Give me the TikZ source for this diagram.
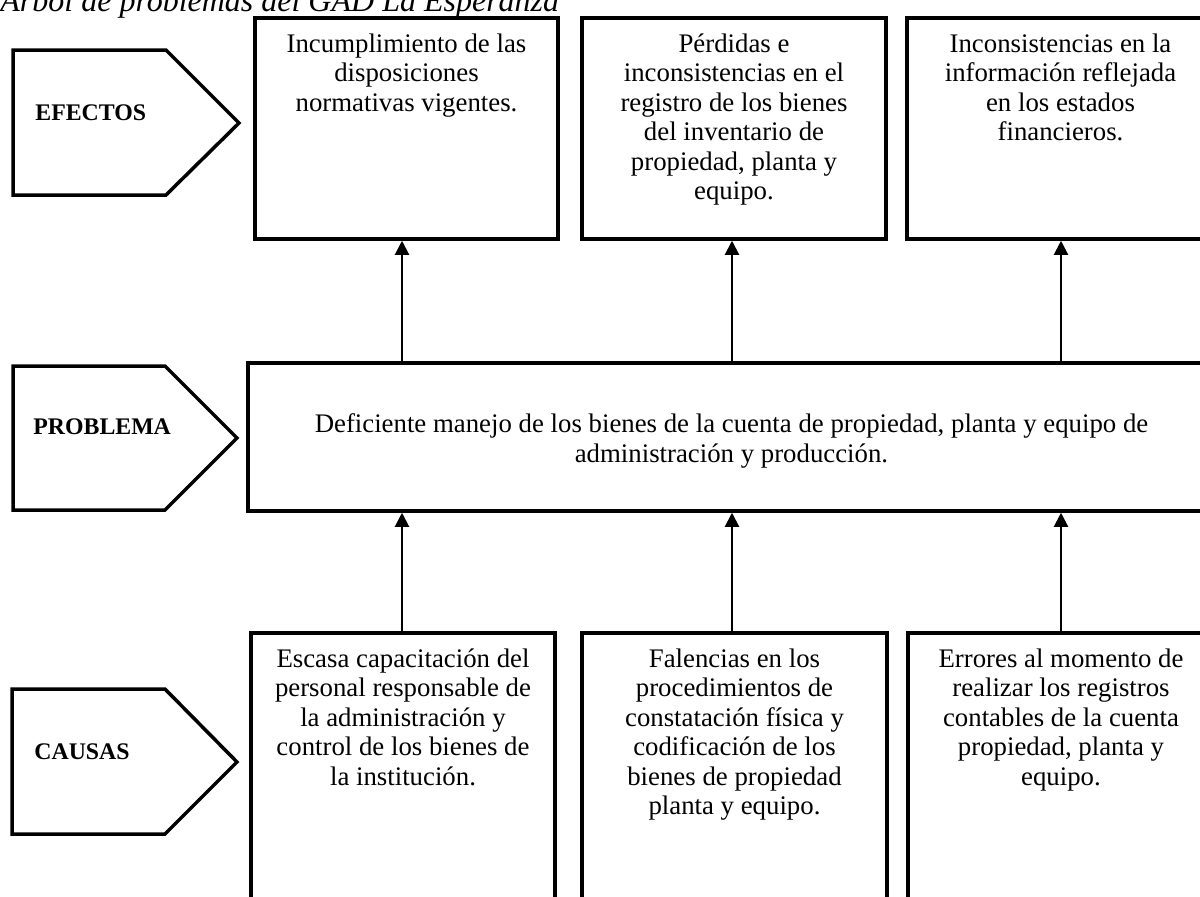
\documentclass[tikz,border=0pt]{standalone}
\usepackage{fontspec}
\setmainfont{Liberation Serif}
\usetikzlibrary{arrows.meta,fit}
\begin{document}
\begin{tikzpicture}[x=0.5pt,y=-0.5pt,
  box/.style={draw,line width=1.75pt,inner sep=0pt},
  tag/.style={draw,line width=1.75pt,line join=miter},
  txt/.style={inner sep=0pt,align=center,anchor=north,font=\fontsize{13.4}{14.75}\selectfont},
  lbl/.style={inner sep=0pt,anchor=west,font=\fontsize{11.9}{14}\selectfont\bfseries},
  arr/.style={line width=1pt,-{Triangle[width=7pt,length=7pt]}}]
\useasboundingbox (0,0) rectangle (1200,896);
\clip (0,0) rectangle (1200,896);
% title
\node[inner sep=0pt,anchor=base west,font=\fontsize{16}{18}\selectfont\itshape] (title) at (0,11) {Árbol de problemas del GAD La Esperanza};
% side tags
\draw[tag] (13,50) -- (166,50) -- (239,123) -- (166,195) -- (13,195) -- cycle;
\node[lbl] (lE) at (35,113) {EFECTOS};
\draw[tag] (13,366) -- (165,366) -- (237,438) -- (165,510) -- (13,510) -- cycle;
\node[lbl] (lP) at (33,427) {PROBLEMA};
\draw[tag] (12,689) -- (165,689) -- (237,762) -- (165,834) -- (12,834) -- cycle;
\node[lbl] (lC) at (34,752) {CAUSAS};
% boxes
\node[box,fit={(255,18) (558,239)}] (E1) {};
\node[box,fit={(582,18) (886,239)}] (E2) {};
\node[box,fit={(907,18) (1214,239)}] (E3) {};
\node[box,fit={(248,363) (1215,511)}] (P) {};
\node[box,fit={(251,633) (555,920)}] (C1) {};
\node[box,fit={(582,633) (887,920)}] (C2) {};
\node[box,fit={(908,633) (1214,920)}] (C3) {};
% texts
\node[txt] (tE1) at ([yshift=-8.5pt]E1.north) {Incumplimiento de las\\disposiciones\\normativas vigentes.};
\node[txt] (tE2) at ([yshift=-8.5pt]E2.north) {Pérdidas e\\inconsistencias en el\\registro de los bienes\\del inventario de\\propiedad, planta y\\equipo.};
\node[txt] (tE3) at ([yshift=-8.5pt]E3.north) {Inconsistencias en la\\información reflejada\\en los estados\\financieros.};
\node[txt,anchor=center] (tP) at ([yshift=-2pt]P.center) {Deficiente manejo de los bienes de la cuenta de propiedad, planta y equipo de\\administración y producción.};
\node[txt] (tC1) at ([yshift=-8.5pt]C1.north) {Escasa capacitación del\\personal responsable de\\la administración y\\control de los bienes de\\la institución.};
\node[txt] (tC2) at ([yshift=-8.5pt]C2.north) {Falencias en los\\procedimientos de\\constatación física y\\codificación de los\\bienes de propiedad\\planta y equipo.};
\node[txt] (tC3) at ([yshift=-8.5pt]C3.north) {Errores al momento de\\realizar los registros\\contables de la cuenta\\propiedad, planta y\\equipo.};
% arrows
\coordinate (xa) at (402,0);
\coordinate (xb) at (732,0);
\coordinate (xc) at (1061,0);
\draw[arr] (P.north -| xa) -- (E1.south -| xa);
\draw[arr] (P.north -| xb) -- (E2.south -| xb);
\draw[arr] (P.north -| xc) -- (E3.south -| xc);
\draw[arr] (C1.north -| xa) -- (P.south -| xa);
\draw[arr] (C2.north -| xb) -- (P.south -| xb);
\draw[arr] (C3.north -| xc) -- (P.south -| xc);
\end{tikzpicture}
\end{document}
